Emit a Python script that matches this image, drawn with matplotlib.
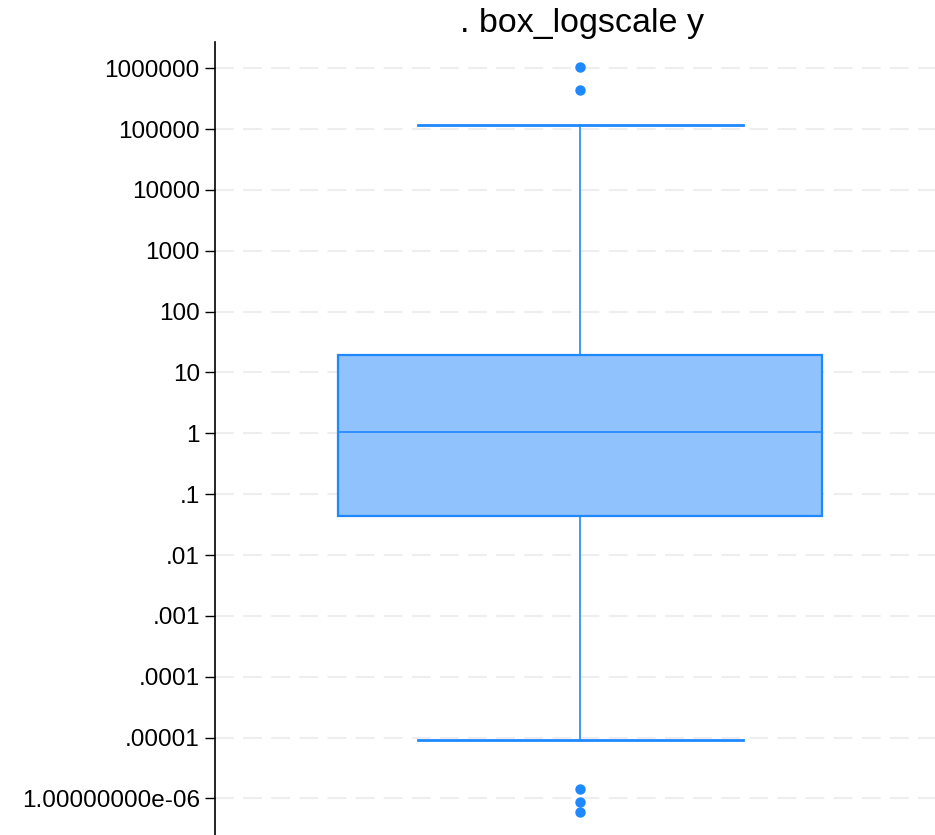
import matplotlib
matplotlib.use("Agg")
import matplotlib.pyplot as plt

plt.rcParams["font.family"] = ["Liberation Sans", "DejaVu Sans"]

# summary statistics of y (log scale)
median = 1.06
q1 = 0.0442
q3 = 19.4
whisker_lo = 9.3e-6
whisker_hi = 1.16e5
fliers = [1.04e6, 4.35e5, 1.41e-6, 8.6e-7, 5.9e-7]

tick_values = [1e6, 1e5, 1e4, 1e3, 1e2, 1e1, 1, 1e-1, 1e-2, 1e-3, 1e-4, 1e-5, 1e-6]
tick_labels = ["1000000", "100000", "10000", "1000", "100", "10", "1", ".1",
               ".01", ".001", ".0001", ".00001", "1.00000000e-06"]

edge = "#1e88ff"
fill = "#90c2fd"

fig = plt.figure(figsize=(9.35, 8.35), dpi=100)
ax = fig.add_axes([0.23, 0.0, 0.77, 0.9497])

stats = [{
    "med": median, "q1": q1, "q3": q3,
    "whislo": whisker_lo, "whishi": whisker_hi,
    "fliers": fliers,
}]
ax.bxp(stats, positions=[0], widths=[1.344], capwidths=[0.903],
       patch_artist=True, showfliers=True,
       boxprops=dict(facecolor=fill, edgecolor=edge, linewidth=1.6),
       medianprops=dict(color=edge, linewidth=1.2),
       whiskerprops=dict(color=edge, linewidth=1.2),
       capprops=dict(color=edge, linewidth=2.0),
       flierprops=dict(marker="o", markerfacecolor=edge, markeredgecolor=edge,
                       markersize=6.5, linestyle="none"))

ax.set_yscale("log")
ax.set_ylim(10 ** -6.60, 10 ** 6.43)
ax.set_xlim(-1.014, 0.986)
ax.minorticks_off()
ax.set_yticks(tick_values)
ax.set_yticklabels(tick_labels)
ax.tick_params(axis="y", length=7, width=1, pad=4, labelsize=17.5, colors="black")
ax.tick_params(axis="y", which="minor", length=0)
ax.set_xticks([])

ax.yaxis.grid(True, color="#eeeeee", linewidth=1.5, linestyle=(0, (9, 4.5)))
ax.set_axisbelow(True)

for side in ["top", "right", "bottom"]:
    ax.spines[side].set_visible(False)
ax.spines["left"].set_linewidth(1.2)

fig.text(582 / 935, 1 - 32 / 835, ". box_logscale y", ha="center", va="baseline",
         fontsize=24.5)

fig.savefig("out.png", dpi=100)
